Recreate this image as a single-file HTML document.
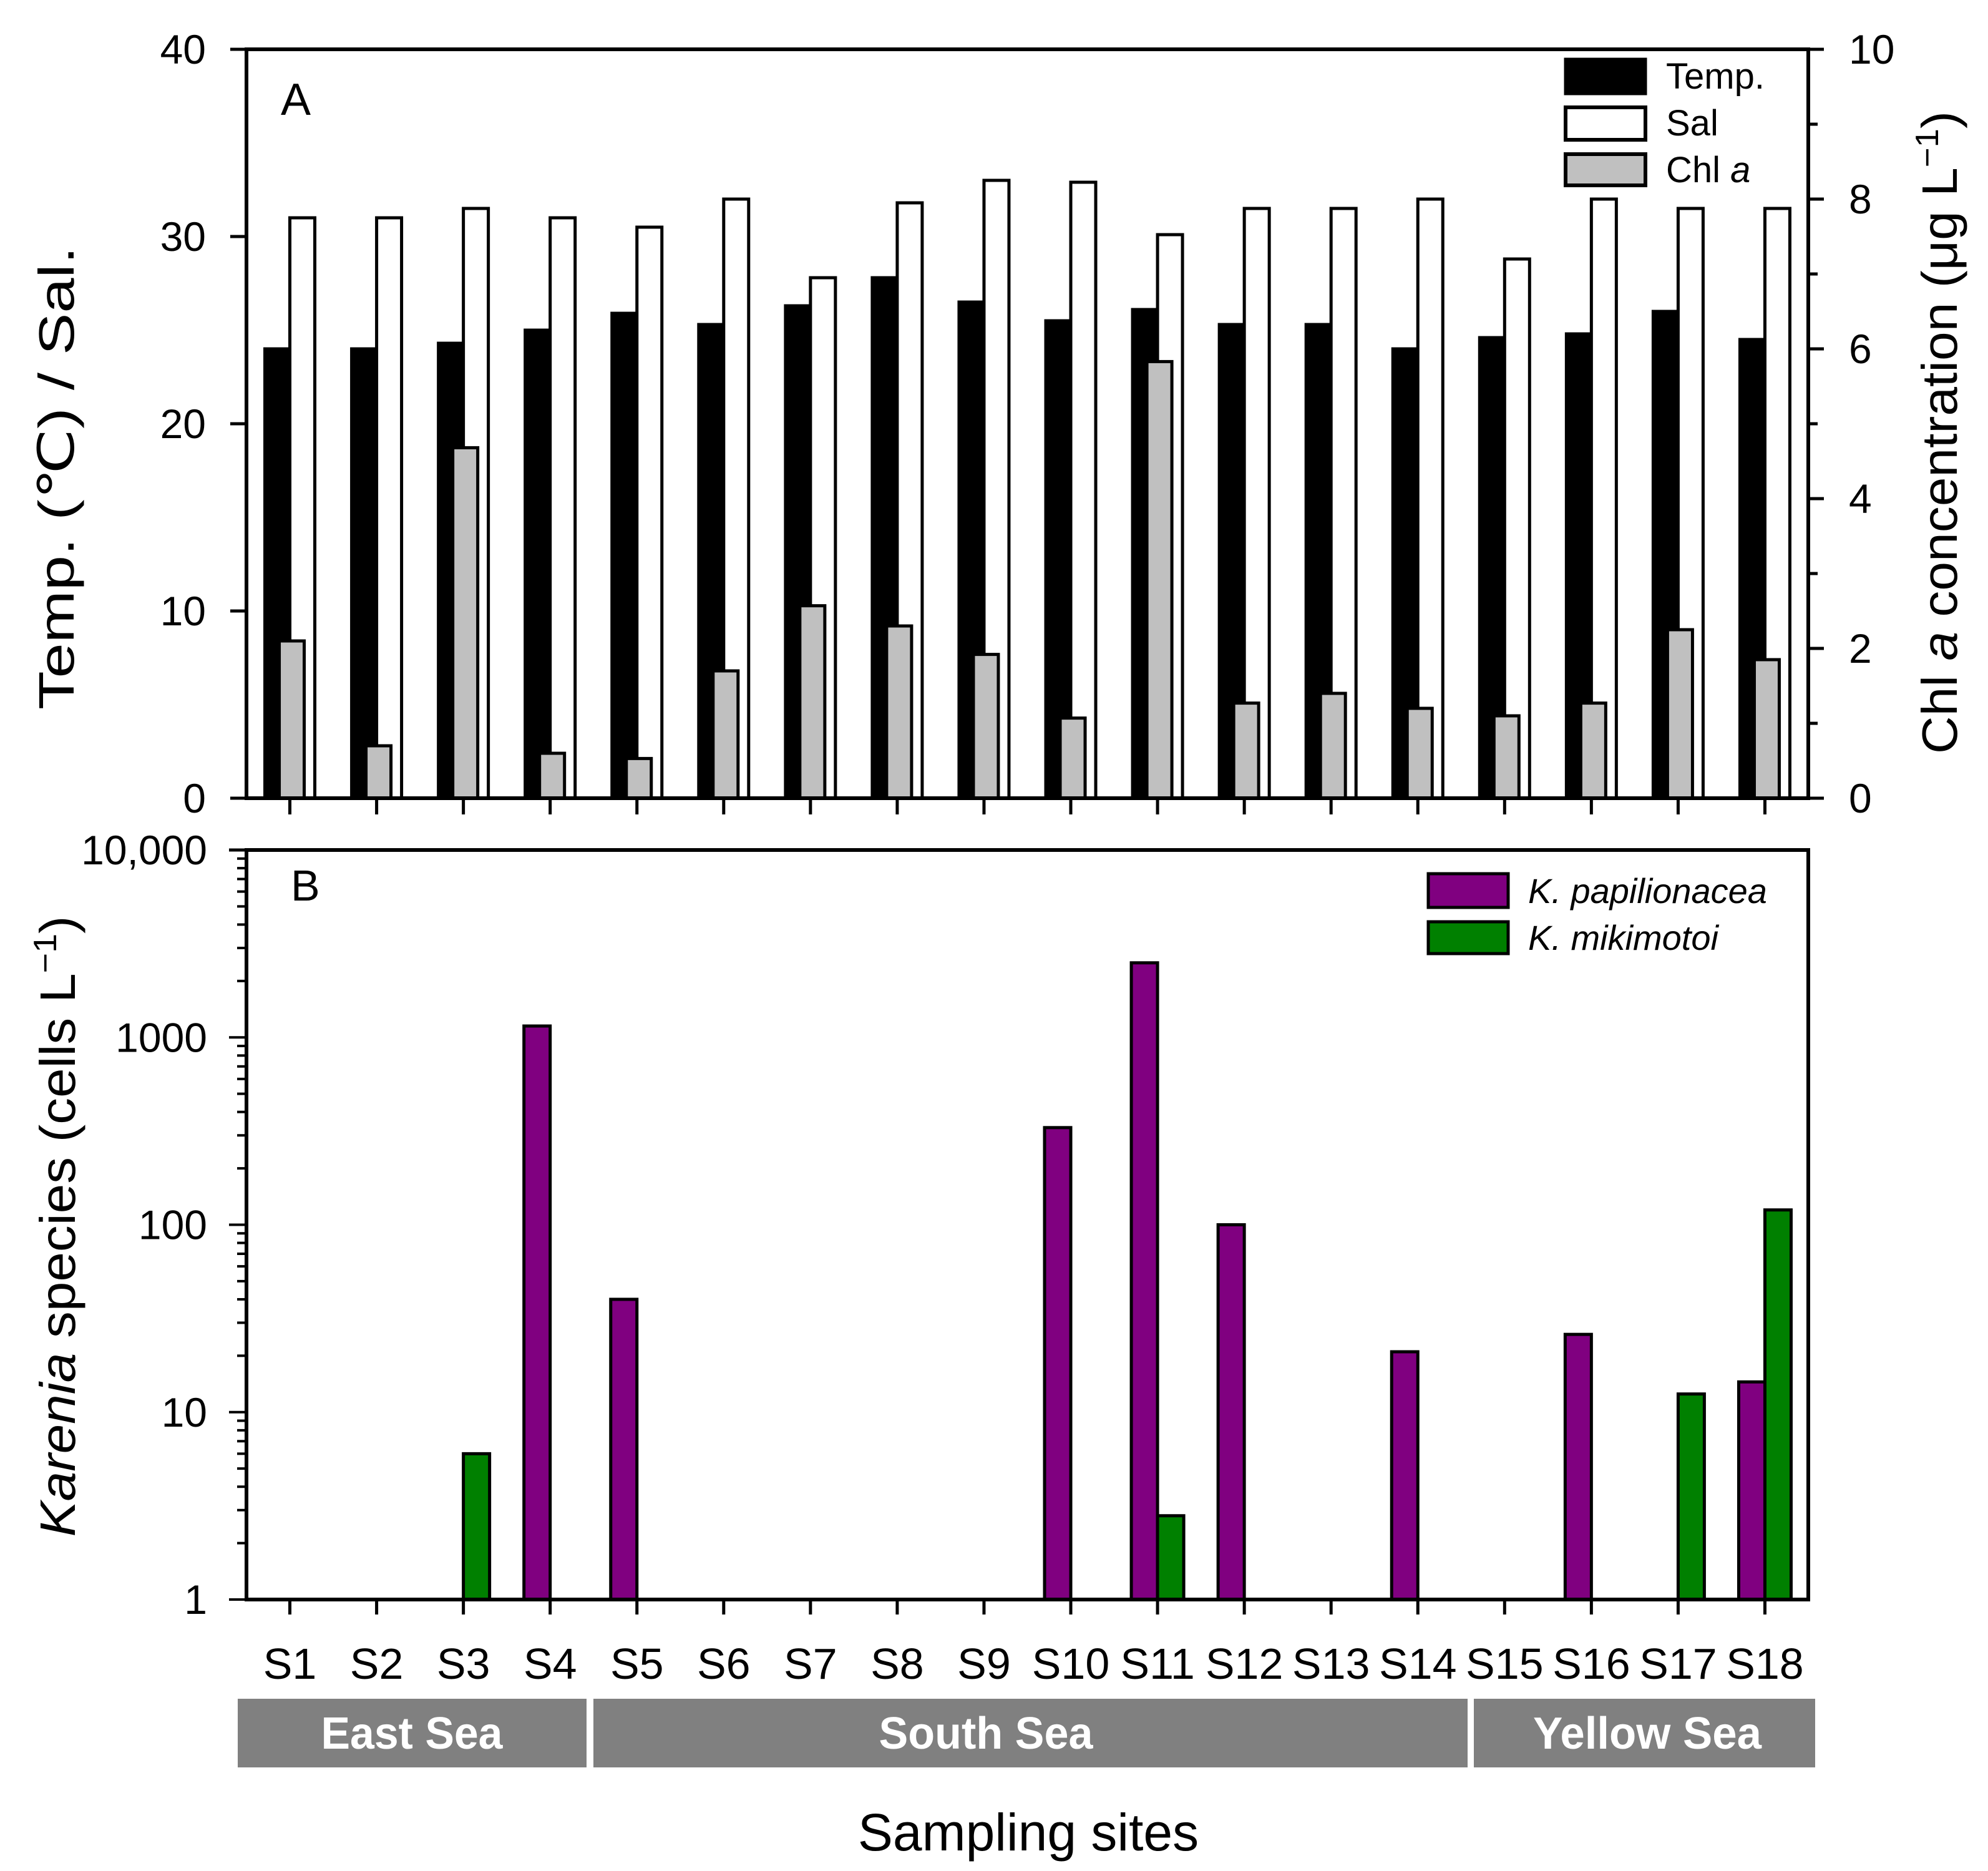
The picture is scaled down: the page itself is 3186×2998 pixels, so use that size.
<!DOCTYPE html>
<html><head><meta charset="utf-8"><style>
html,body{margin:0;padding:0;background:#fff}
svg{display:block}
text{font-family:"Liberation Sans",Arial,sans-serif;fill:#000}
</style></head><body>
<svg id="chart" width="3186" height="2998" viewBox="0 0 3186 2998" xmlns="http://www.w3.org/2000/svg">
<g id="panelA"></g>
<g id="panelB"></g>
<g id="xlab"></g>
<text x="450" y="184" font-size="72">A</text>
<text x="466" y="1443" font-size="70">B</text>
<text transform="translate(118,766) rotate(-90)" text-anchor="middle" font-size="80" textLength="742" lengthAdjust="spacingAndGlyphs">Temp. (℃) / Sal.</text>
<text transform="translate(3136,693) rotate(-90)" text-anchor="middle" font-size="80" textLength="1030" lengthAdjust="spacingAndGlyphs">Chl <tspan font-style="italic">a</tspan> concentration (μg L<tspan dy="-30" font-size="52">−1</tspan><tspan dy="30">)</tspan></text>
<text transform="translate(120,1965) rotate(-90)" text-anchor="middle" font-size="80" textLength="995" lengthAdjust="spacingAndGlyphs"><tspan font-style="italic">Karenia</tspan> species (cells L<tspan dy="-30" font-size="52">−1</tspan><tspan dy="30">)</tspan></text>
<text x="1648" y="2965" text-anchor="middle" font-size="84">Sampling sites</text>
<g>
<rect x="2509" y="95" width="128" height="55" fill="#000" stroke="#000" stroke-width="5"/>
<text x="2670" y="142" font-size="58">Temp.</text>
<rect x="2509" y="172" width="128" height="52" fill="#fff" stroke="#000" stroke-width="6"/>
<text x="2670" y="217" font-size="58">Sal</text>
<rect x="2509" y="247" width="128" height="50" fill="#c0c0c0" stroke="#000" stroke-width="6"/>
<text x="2670" y="292" font-size="58">Chl <tspan font-style="italic">a</tspan></text>
</g>
<g>
<rect x="2289" y="1400" width="128" height="54" fill="#800080" stroke="#000" stroke-width="5"/>
<text x="2449" y="1447" font-size="56" font-style="italic">K. papilionacea</text>
<rect x="2289" y="1477" width="128" height="51" fill="#008000" stroke="#000" stroke-width="5"/>
<text x="2449" y="1522" font-size="56" font-style="italic">K. mikimotoi</text>
</g>
</svg>
<script>
const sites = ["S1","S2","S3","S4","S5","S6","S7","S8","S9","S10","S11","S12","S13","S14","S15","S16","S17","S18"];
const tempVals = [24,24,24.3,25,25.9,25.3,26.3,27.8,26.5,25.5,26.1,25.3,25.3,24,24.6,24.8,26,24.5];
const salVals = [31,31,31.5,31,30.5,32,27.8,31.8,33,32.9,30.1,31.5,31.5,32,28.8,32,31.5,31.5];
const chlVals = [2.1,0.7,4.68,0.6,0.53,1.7,2.57,2.3,1.92,1.07,5.83,1.27,1.4,1.2,1.1,1.27,2.25,1.85];
const papVals = [0,0,0,1150,40,0,0,0,0,330,2500,100,0,21,0,26,0,14.5];
const mikVals = [0,0,6,0,0,0,0,0,0,0,2.8,0,0,0,0,0,12.5,120];
const leftTicksA = [0,10,20,30,40];
const rightTicksA = [0,2,4,6,8,10];
const logTicksB = [1,10,100,1000,10000];
const logTickLabels = ["1","10","100","1000","10,000"];
const regions = ["East Sea","South Sea","Yellow Sea"];

const NS="http://www.w3.org/2000/svg";
const L=395,R=2898,band=(R-L)/sites.length;
const aTop=79,aBot=1279,bTop=1362,bBot=2563;
function xc(i){return L+band*(i+0.5);}
function yT(v){return aBot-(v/40)*(aBot-aTop);}
function yC(v){return aBot-(v/10)*(aBot-aTop);}
function yL(v){return bBot-Math.log10(v)/4*(bBot-bTop);}
function mk(parent,tag,attrs){const e=document.createElementNS(NS,tag);for(const k in attrs)e.setAttribute(k,attrs[k]);parent.appendChild(e);return e;}
const A=document.getElementById('panelA'),B=document.getElementById('panelB'),X=document.getElementById('xlab');

sites.forEach((s,i)=>{
  const c=xc(i);
  let r=mk(A,'rect',{x:c-40,y:yT(tempVals[i]),width:40,height:aBot-yT(tempVals[i]),fill:'#000',stroke:'#000','stroke-width':5});
  
  
  r=mk(A,'rect',{x:c,y:yT(salVals[i]),width:40,height:aBot-yT(salVals[i]),fill:'#fff',stroke:'#000','stroke-width':5});
  
  
  r=mk(A,'rect',{x:c-17,y:yC(chlVals[i]),width:40,height:aBot-yC(chlVals[i]),fill:'#c0c0c0',stroke:'#000','stroke-width':5});
  
  
  const t=mk(A,'line',{x1:c,x2:c,y1:aBot,y2:aBot+26,stroke:'#000','stroke-width':5});
  
  
});
let fa=mk(A,'rect',{x:L,y:aTop,width:R-L,height:aBot-aTop,fill:'none',stroke:'#000','stroke-width':6});


leftTicksA.forEach(v=>{
  const y=yT(v);
  const l=mk(A,'line',{x1:L-26,x2:L,y1:y,y2:y,stroke:'#000','stroke-width':5});
  
  
  const t=mk(A,'text',{x:330,y:y+23,'text-anchor':'end','font-size':66});
  t.textContent=v;
  
  
});
for(let v=0;v<=10;v++){
  const y=yC(v);const major=v%2===0;
  const l=mk(A,'line',{x1:R,x2:R+(major?25:15),y1:y,y2:y,stroke:'#000','stroke-width':5});
  
  
}
rightTicksA.forEach(v=>{
  const t=mk(A,'text',{x:2963,y:yC(v)+23,'font-size':66});
  t.textContent=v;
  
  
});

sites.forEach((s,i)=>{
  const c=xc(i);
  if(papVals[i]>1){
    const r=mk(B,'rect',{x:c-42,y:yL(papVals[i]),width:42,height:bBot-yL(papVals[i]),fill:'#800080',stroke:'#000','stroke-width':5});
    
    
  }
  if(mikVals[i]>1){
    const r=mk(B,'rect',{x:c,y:yL(mikVals[i]),width:42,height:bBot-yL(mikVals[i]),fill:'#008000',stroke:'#000','stroke-width':5});
    
    
  }
  const t=mk(B,'line',{x1:c,x2:c,y1:bBot,y2:bBot+24,stroke:'#000','stroke-width':5});
  
  
  const lb=mk(X,'text',{x:c,y:2690,'text-anchor':'middle','font-size':70});
  lb.textContent=s;
  
  
});
let fb=mk(B,'rect',{x:L,y:bTop,width:R-L,height:bBot-bTop,fill:'none',stroke:'#000','stroke-width':6});


for(let d=0;d<4;d++){for(let m=1;m<10;m++){
  const y=yL(Math.pow(10,d)*m);
  const l=mk(B,'line',{x1:L-(m===1?28:15),x2:L,y1:y,y2:y,stroke:'#000','stroke-width':4});
  
  
}}
let lt=mk(B,'line',{x1:L-28,x2:L,y1:bTop,y2:bTop,stroke:'#000','stroke-width':5});


logTicksB.forEach((v,i)=>{
  const t=mk(B,'text',{x:332,y:yL(v)+23,'text-anchor':'end','font-size':66});
  t.textContent=logTickLabels[i];
  
  
});

const rx=[381,951,2362],rw=[559,1401,547],tx=[660,1580,2640],tl=[291,343,366];
regions.forEach((n,i)=>{
  const r=mk(X,'rect',{x:rx[i],y:2722,width:rw[i],height:110,fill:'#808080'});
  
  
  const t=mk(X,'text',{x:tx[i],y:2802,'text-anchor':'middle','font-size':72,'font-weight':'bold',textLength:tl[i],lengthAdjust:'spacingAndGlyphs'});
  t.setAttribute('style','fill:#fff');
  t.textContent=n;
  
  
});
</script>
</body></html>
